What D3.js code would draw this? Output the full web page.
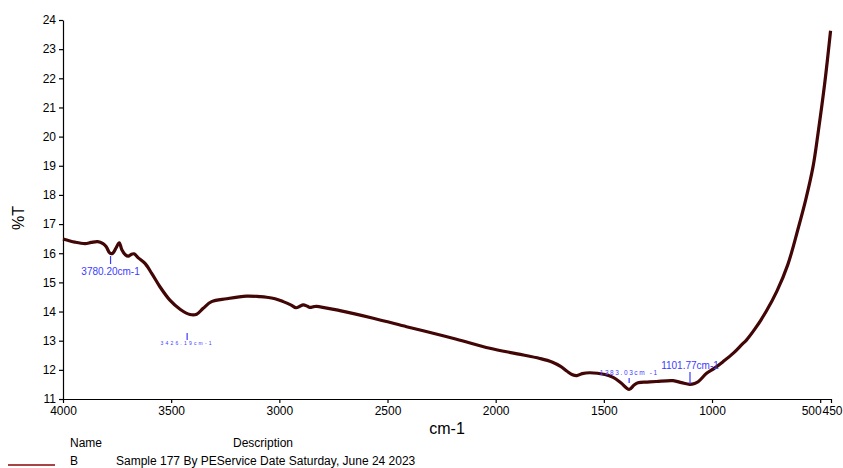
<!DOCTYPE html>
<html>
<head>
<meta charset="utf-8">
<script src="https://cdn.jsdelivr.net/npm/d3@7"></script>
<style>
    html, body { margin: 0; padding: 0; background: #fff; }
    svg { display: block; font-family: "Liberation Sans", Arial, sans-serif; }
</style>
</head>
<body>
<div id="chart"></div>
<script>
// spectrum: wavenumber (cm-1) / %T
var wavenumbers = [4000, 3945, 3898, 3870, 3840, 3815, 3800, 3783, 3770, 3755,
    3740, 3728, 3712, 3698, 3685, 3672, 3652, 3621, 3590, 3552,
    3506, 3459, 3413, 3382, 3352, 3313, 3244, 3151, 3090, 3059,
    3020, 2982, 2945, 2923, 2905, 2890, 2870, 2859, 2840, 2828,
    2720, 2566, 2412, 2335, 2181, 2027, 1900, 1796, 1740, 1700,
    1670, 1645, 1625, 1600, 1565, 1495, 1457, 1420, 1383, 1360,
    1342, 1300, 1257, 1180, 1141, 1103, 1080, 1064, 1025, 990,
    949, 900, 860, 841, 800, 750, 700, 650, 600, 567,
    533, 510, 479, 452];
var transmittance = [16.49, 16.38, 16.33, 16.37, 16.40, 16.33, 16.22, 16.00, 16.00, 16.18,
    16.36, 16.12, 15.95, 15.90, 15.96, 15.98, 15.84, 15.65, 15.31, 14.85,
    14.39, 14.08, 13.90, 13.91, 14.11, 14.34, 14.44, 14.53, 14.51, 14.49,
    14.44, 14.34, 14.22, 14.13, 14.18, 14.23, 14.18, 14.14, 14.17, 14.18,
    14.03, 13.77, 13.48, 13.34, 13.05, 12.74, 12.55, 12.39, 12.27, 12.12,
    11.95, 11.83, 11.80, 11.87, 11.90, 11.84, 11.74, 11.55, 11.33, 11.48,
    11.56, 11.58, 11.60, 11.63, 11.56, 11.50, 11.53, 11.59, 11.88, 12.05,
    12.28, 12.58, 12.88, 13.02, 13.42, 14.00, 14.70, 15.60, 16.90, 17.83,
    18.97, 20.11, 21.83, 23.63];

// tick labels
var xTicks = [4000, 3500, 3000, 2500, 2000, 1500, 1000, 500, 450];
var yTicks = [11, 12, 13, 14, 15, 16, 17, 18, 19, 20, 21, 22, 23, 24];

// peak labels
var peakPositions = [3780.20, 3426.19, 1383.03, 1101.77];
var peakLabels = ["3780.20cm-1", "3426.19cm-1", "1383.03cm -1", "1101.77cm-1"];

// legend
var legendNames = ["B"];
var legendDescriptions = ["Sample 177 By PEService Date Saturday, June 24 2023"];

(function() {"use strict";

    var width  = 843,
        height = 468,
        margin = {top: 20, right: 12, bottom: 69, left: 63},
        lineColor = "#420606",
        peakColor = "#3b3bff";

    var svg = d3.select("#chart").append("svg")
        .attr("width", width)
        .attr("height", height);

    // Scales (x reversed like an IR spectrum)
    var x = d3.scaleLinear()
            .domain([4000, 450])
            .range([margin.left, width - margin.right]),
        y = d3.scaleLinear()
            .domain([11, 24])
            .range([height - margin.bottom, margin.top]);

    var points = wavenumbers.map(function(w, i) { return [w, transmittance[i]]; });

    // x axis
    var gx = svg.append("g")
        .attr("transform", "translate(0," + y(11) + ")")
        .call(d3.axisBottom(x).tickValues(xTicks).tickFormat(d3.format("d"))
            .tickSizeInner(4).tickSizeOuter(0));
    // 500 / 450 labels sit side by side
    gx.selectAll(".tick text")
        .attr("text-anchor", function(d) {
            return d === 500 ? "end" : (d === 450 ? "start" : "middle");
        })
        .attr("dx", function(d) {
            return d === 500 ? "1px" : (d === 450 ? "-9px" : 0);
        });

    // y axis
    var gy = svg.append("g")
        .attr("transform", "translate(" + margin.left + ",0)")
        .call(d3.axisLeft(y).tickValues(yTicks).tickSizeInner(4).tickSizeOuter(0));

    [gx, gy].forEach(function(g) {
        g.selectAll("text").attr("font-size", 12).attr("fill", "#000")
            .attr("font-family", "Liberation Sans, Arial, sans-serif");
        g.selectAll("line, path").attr("stroke", "#000").attr("stroke-width", 1.2);
    });
    gx.selectAll(".tick text").attr("y", 7);

    // axis titles
    svg.append("text")
        .attr("x", 447).attr("y", 434)
        .attr("text-anchor", "middle")
        .attr("font-size", 16)
        .text("cm-1");
    svg.append("text")
        .attr("transform", "translate(24,218) rotate(-90)")
        .attr("text-anchor", "middle")
        .attr("font-size", 16)
        .text("%T");

    // spectrum line
    var line = d3.line()
        .x(function(d) { return x(d[0]); })
        .y(function(d) { return y(d[1]); })
        .curve(d3.curveCatmullRom.alpha(0.5));

    svg.append("path")
        .datum(points)
        .attr("d", line)
        .attr("fill", "none")
        .attr("stroke", lineColor)
        .attr("stroke-width", 3.2)
        .attr("stroke-linejoin", "round");

    // peak marks: tick top / tick bottom / label baseline in px, label size, spacing
    var peakLayout = [
        {t1: 256, t2: 264, ty: 275, size: 10, spacing: 0},
        {t1: 333, t2: 340, ty: 345, size: 5, spacing: 2.2},
        {t1: 378, t2: 383, ty: 375, size: 6.5, spacing: 1.6},
        {t1: 372, t2: 384, ty: 369, size: 10, spacing: 0}
    ];

    peakPositions.forEach(function(p, i) {
        var lay = peakLayout[i], px = x(p);
        svg.append("line")
            .attr("x1", px).attr("x2", px)
            .attr("y1", lay.t1).attr("y2", lay.t2)
            .attr("stroke", peakColor)
            .attr("stroke-width", 1.2);
        svg.append("text")
            .attr("x", px).attr("y", lay.ty)
            .attr("text-anchor", "middle")
            .attr("font-size", lay.size)
            .attr("letter-spacing", lay.spacing)
            .attr("fill", peakColor)
            .text(peakLabels[i]);
    });

    // legend table at the bottom
    svg.append("text").attr("x", 70).attr("y", 447).attr("font-size", 12).text("Name");
    svg.append("text").attr("x", 233).attr("y", 447).attr("font-size", 12).text("Description");

    legendNames.forEach(function(n, i) {
        var ly = 465 + i * 18;
        svg.append("line")
            .attr("x1", 8).attr("x2", 55)
            .attr("y1", ly).attr("y2", ly)
            .attr("stroke", "#a84444")
            .attr("stroke-width", 2);
        svg.append("text").attr("x", 70).attr("y", ly).attr("font-size", 12).text(n);
        svg.append("text").attr("x", 116).attr("y", ly).attr("font-size", 12)
            .text(legendDescriptions[i]);
    });

})();
</script>
</body>
</html>
